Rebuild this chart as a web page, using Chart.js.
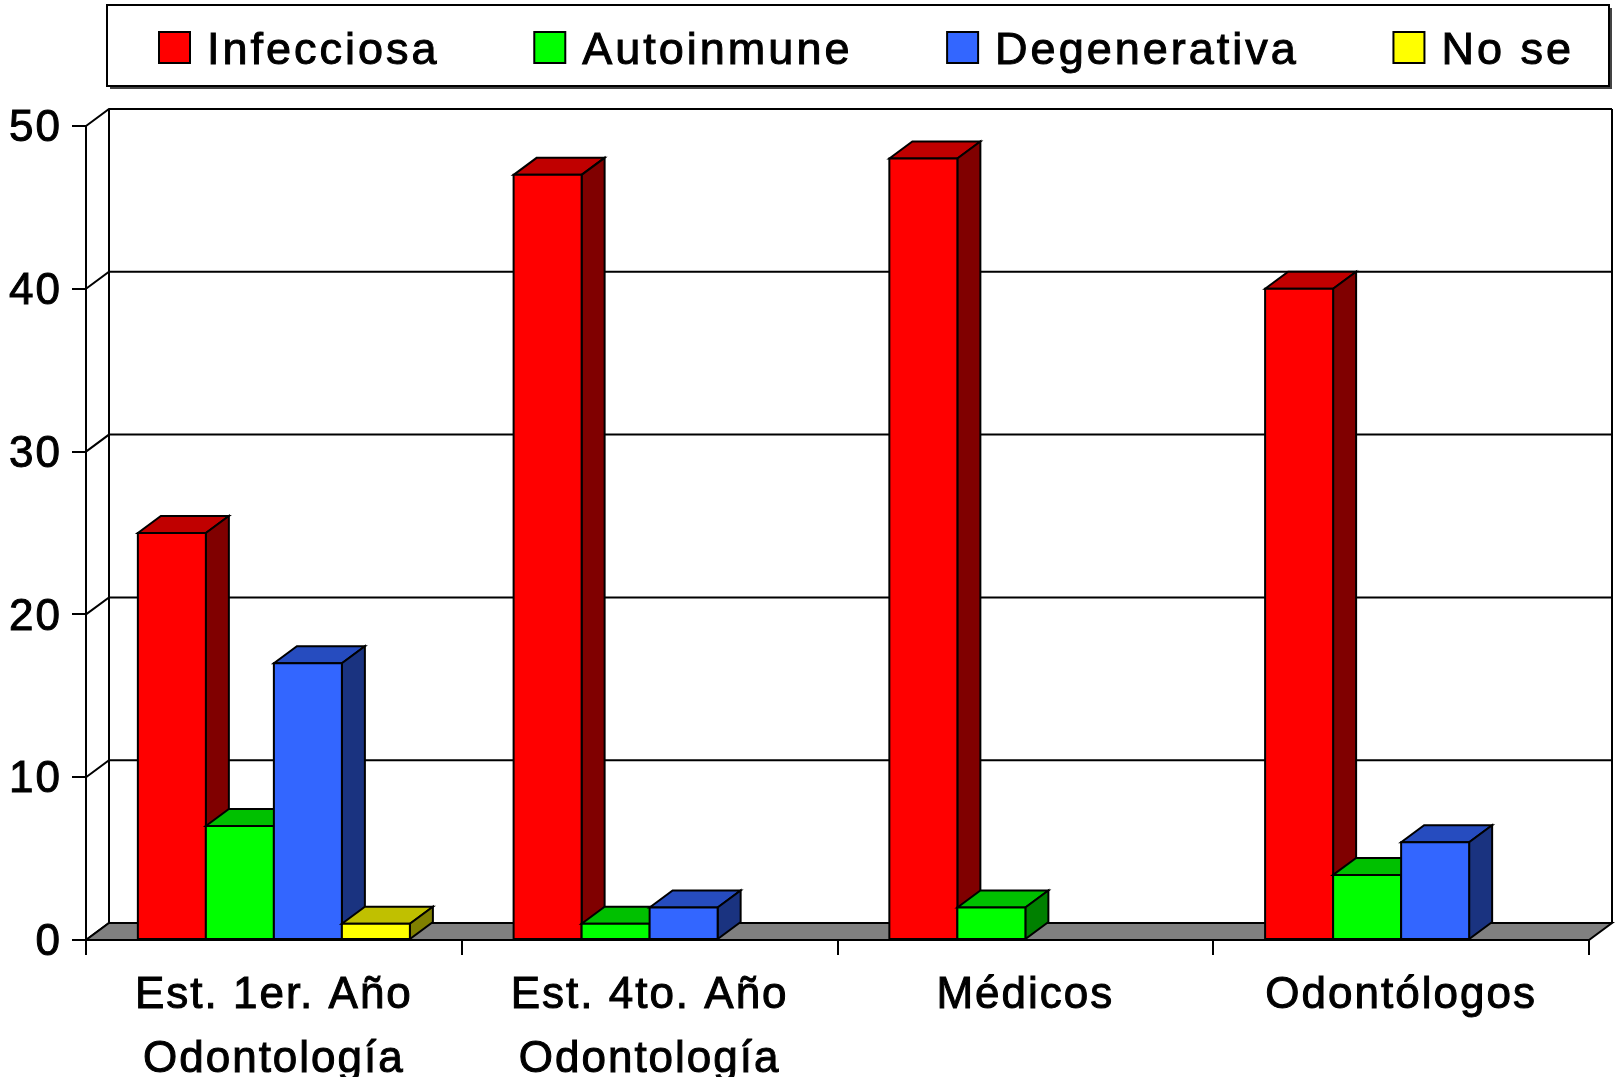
<!DOCTYPE html>
<html>
<head>
<meta charset="utf-8">
<script src="https://cdn.jsdelivr.net/npm/chart.js@4.4.1/dist/chart.umd.min.js"></script>
<style>
  html, body { margin: 0; padding: 0; background: #fff; }
  #wrap { width: 1617px; height: 1077px; }
</style>
</head>
<body>
<div id="wrap"><canvas id="causas"></canvas></div>
<script>
const categories = [['Est. 1er. Año', 'Odontología'], ['Est. 4to. Año', 'Odontología'], 'Médicos', 'Odontólogos'];
const seriesNames = ['Infecciosa', 'Autoinmune', 'Degenerativa', 'No se'];
const infecciosa = [25, 47, 48, 40];
const autoinmune = [7, 1, 2, 4];
const degenerativa = [17, 2, 0, 6];
const noSe = [1, 0, 0, 0];
const yTicks = [0, 10, 20, 30, 40, 50];

// front, top, side
const faces = [
  ['#ff0000', '#c00000', '#800000'],
  ['#00ff00', '#00c000', '#008000'],
  ['#3366ff', '#264cbf', '#1a3380'],
  ['#ffff00', '#c0c000', '#808000']
];

const DX = 23, DY = 17;   // depth of the 3d box

Chart.defaults.font.family = '"Liberation Sans", Arial, sans-serif';
Chart.defaults.color = '#000';

function poly(ctx, pts) {
  ctx.beginPath();
  pts.forEach((p, i) => i ? ctx.lineTo(p[0], p[1]) : ctx.moveTo(p[0], p[1]));
  ctx.closePath();
  ctx.fill();
  ctx.stroke();
}

const spacing = {
  id: 'spacing',
  beforeDraw(chart) { chart.ctx.letterSpacing = '2px'; }
};

const threeD = {
  id: 'threeD',
  beforeDatasetsDraw(chart) {
    const ctx = chart.ctx, a = chart.chartArea, y = chart.scales.y;
    ctx.save();
    ctx.lineWidth = 2;
    ctx.strokeStyle = '#000';

    // left wall + back wall grid
    ctx.beginPath();
    yTicks.forEach(v => {
      const py = y.getPixelForValue(v);
      ctx.moveTo(a.left, py);
      ctx.lineTo(a.left + DX, py - DY);
      ctx.lineTo(a.right + DX, py - DY);
    });
    ctx.moveTo(a.left + DX, a.top - DY);
    ctx.lineTo(a.left + DX, a.bottom - DY);
    ctx.moveTo(a.right + DX, a.top - DY);
    ctx.lineTo(a.right + DX, a.bottom - DY);
    ctx.stroke();

    // floor
    ctx.fillStyle = '#808080';
    poly(ctx, [[a.left, a.bottom], [a.right, a.bottom], [a.right + DX, a.bottom - DY], [a.left + DX, a.bottom - DY]]);

    // bars, left to right so each one covers the side of the previous
    chart.data.labels.forEach((lab, i) => {
      chart.data.datasets.forEach((ds, d) => {
        if (!ds.data[i]) return;
        const bar = chart.getDatasetMeta(d).data[i];
        const p = bar.getProps(['x', 'y', 'base', 'width'], true);
        const l = p.x - p.width / 2, r = p.x + p.width / 2, t = p.y, b = p.base;
        const c = faces[d];
        ctx.fillStyle = c[1];
        poly(ctx, [[l, t], [l + DX, t - DY], [r + DX, t - DY], [r, t]]);
        ctx.fillStyle = c[2];
        poly(ctx, [[r, t], [r + DX, t - DY], [r + DX, b - DY], [r, b]]);
        ctx.fillStyle = c[0];
        poly(ctx, [[l, t], [r, t], [r, b], [l, b]]);
      });
    });
    ctx.restore();
    return false;
  }
};

const legendBox = {
  id: 'legendBox',
  afterDraw(chart) {
    const ctx = chart.ctx;
    const L = 107, T = 5, R = 1609, B = 86;
    ctx.save();
    ctx.fillStyle = '#444';
    ctx.fillRect(L + 3, T + 3, R - L, B - T);
    ctx.fillStyle = '#fff';
    ctx.fillRect(L, T, R - L, B - T);
    ctx.lineWidth = 2;
    ctx.strokeStyle = '#000';
    ctx.strokeRect(L, T, R - L, B - T);

    ctx.font = '45px "Liberation Sans", Arial, sans-serif';
    ctx.letterSpacing = '3px';
    ctx.textBaseline = 'alphabetic';
    ctx.textAlign = 'left';
    const sw = 31, gapText = 17;
    const widths = seriesNames.map(s => ctx.measureText(s).width);
    const first = 159, last = 1574;
    const used = widths.reduce((s, w) => s + sw + gapText + w, 0);
    const gap = (last - first - used) / (seriesNames.length - 1);
    let x = first;
    seriesNames.forEach((s, i) => {
      ctx.lineWidth = 2;
      ctx.fillStyle = chart.data.datasets[i].backgroundColor;
      ctx.fillRect(x, 32, sw, sw);
      ctx.strokeRect(x, 32, sw, sw);
      ctx.fillStyle = '#000';
      ctx.lineWidth = 1;
      ctx.strokeText(s, x + sw + gapText, 64);
      ctx.fillText(s, x + sw + gapText, 64);
      x += sw + gapText + widths[i] + gap;
    });
    ctx.restore();
  }
};

new Chart('causas', {
  type: 'bar',
  data: {
    labels: categories,
    datasets: [infecciosa, autoinmune, degenerativa, noSe].map((vals, i) => ({
      label: seriesNames[i],
      data: vals,
      backgroundColor: faces[i][0],
      categoryPercentage: 0.724,
      barPercentage: 1
    }))
  },
  options: {
    responsive: true,
    maintainAspectRatio: false,
    animation: false,
    layout: { padding: { top: 126, right: 28, left: 0, bottom: 0 } },
    plugins: { legend: { display: false }, tooltip: { enabled: false } },
    scales: {
      x: {
        afterFit(s) { s.height = 137; },
        grid: { offset: true, drawOnChartArea: false, tickLength: 15, color: '#000', lineWidth: 2 },
        border: { display: true, color: '#000', width: 2 },
        ticks: {
          padding: 9, font: { size: 44, lineHeight: 1.45 }, maxRotation: 0, autoSkip: false,
          textStrokeColor: '#000', textStrokeWidth: 1
        }
      },
      y: {
        min: 0, max: 50,
        afterFit(s) { s.width = 86; },
        grid: { drawOnChartArea: false, tickLength: 14, color: '#000', lineWidth: 2 },
        border: { display: true, color: '#000', width: 2 },
        ticks: {
          stepSize: 10, padding: 10, labelOffset: 3, font: { size: 44 },
          textStrokeColor: '#000', textStrokeWidth: 1
        }
      }
    }
  },
  plugins: [spacing, threeD, legendBox]
});
</script>
</body>
</html>
